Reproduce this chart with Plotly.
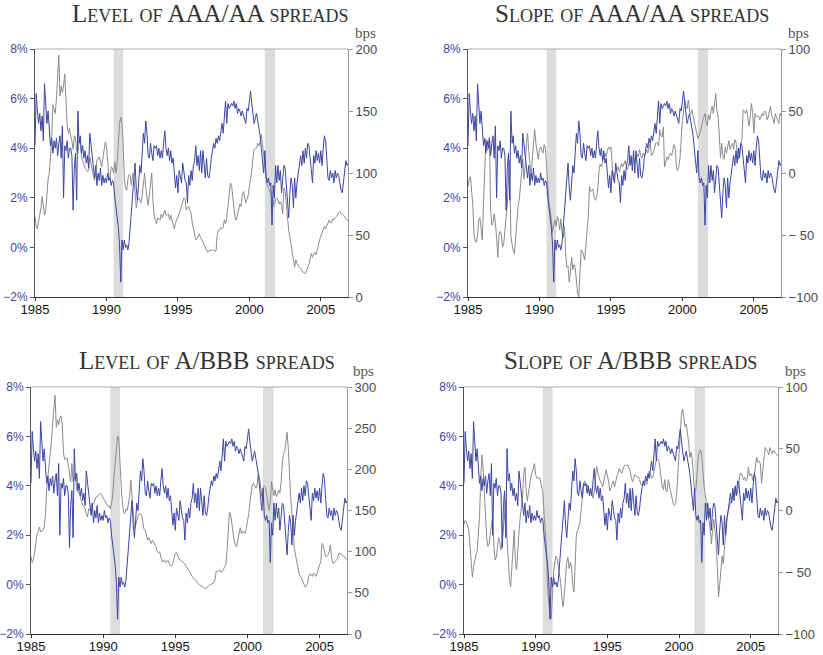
import numpy as np
import plotly.graph_objects as go

# monthly observations, Jan 1985 .. Dec 2006
months = 1985 + np.arange(264) / 12

# blue series (%), left axis, same in every panel
growth = [
    4.1, 6.2, 5.5, 5.0, 5.4, 4.7, 5.3, 4.3, 6.6, 5.6, 5.0, 5.5,
    4.8, 4.1, 4.4, 3.8, 4.3, 4.0, 4.4, 3.7, 4.2, 4.5, 3.6, 4.9,
    2.0, 4.1, 3.9, 4.3, 3.6, 4.0, 4.0, 3.7, 1.5, 3.2, 3.8, 1.9,
    5.5, 4.2, 4.5, 3.8, 4.1, 3.6, 3.9, 3.4, 3.7, 3.2, 4.6, 4.2,
    3.6, 3.2, 2.8, 3.3, 2.5, 3.0, 2.7, 3.2, 2.5, 2.9, 2.6, 2.8,
    2.6, 3.0, 2.7, 2.8, 2.5, 2.7, 2.6, 2.0, 1.6, 1.3, 0.8, 0.1,
    -1.4, 0.3, -0.1, 0.3, 0.0, 0.1, -0.1, 0.2, 0.8, 1.6, 2.2, 2.8,
    3.4, 2.4, 1.9, 2.6, 3.3, 3.0, 4.0, 4.6, 4.2, 5.1, 4.6, 3.7,
    3.6, 4.2, 3.8, 3.5, 4.1, 4.0, 4.1, 3.7, 4.0, 3.6, 3.9, 3.6,
    4.2, 4.7, 4.0, 3.7, 4.0, 3.5, 3.9, 3.4, 3.6, 3.0, 2.4, 2.9,
    2.2, 3.1, 2.8, 2.6, 3.4, 3.0, 2.7, 2.6, 1.8, 2.9, 2.5, 3.1,
    2.7, 3.3, 3.5, 4.1, 3.3, 3.7, 3.1, 3.9, 3.0, 3.9, 3.2, 2.8,
    3.6, 2.9, 2.8, 3.1, 3.6, 4.0, 4.2, 4.0, 4.4, 4.2, 4.5, 4.3,
    4.8, 5.0, 4.6, 5.2, 5.9, 5.0, 5.8, 5.6, 5.7, 5.8, 5.7, 5.9,
    5.6, 5.8, 5.4, 5.6, 5.5, 5.3, 5.5, 5.3, 5.2, 5.0, 5.6, 5.5,
    5.9, 6.3, 5.8, 5.3, 5.0, 5.2, 5.4, 5.1, 4.8, 4.5, 4.0, 3.5,
    3.0, 3.9, 2.8, 2.6, 2.8, 2.5, 2.6, 0.9, 2.5, 2.0, 3.3, 2.6,
    3.3, 2.7, 3.1, 2.2, 3.0, 3.3, 3.2, 2.5, 2.0, 1.2, 2.2, 2.8,
    2.5, 1.6, 2.8, 2.0, 2.6, 3.0, 3.4, 3.7, 3.3, 3.9, 3.4, 4.0,
    3.6, 4.2, 4.1, 3.5, 3.2, 2.6, 3.7, 3.4, 3.9, 3.5, 3.8, 3.4,
    3.9, 3.3, 4.0, 4.5, 4.3, 3.5, 2.8, 2.7, 3.1, 2.8, 3.0, 2.6,
    3.1, 2.8, 3.0, 2.9, 2.5, 2.3, 2.2, 2.7, 3.2, 3.5, 3.3, 3.4,
]

# gray series (bps), right axis
level_aaa = [
    65, 57, 55, 60, 64, 72, 81, 73, 66, 70, 88, 95,
    100, 112, 127, 155, 150, 148, 160, 178, 195, 162, 170, 165,
    170, 180, 150, 138, 132, 136, 130, 126, 119, 130, 128, 118,
    116, 125, 128, 113, 110, 106, 104, 103, 101, 102, 113, 108,
    102, 98, 94, 100, 110, 112, 113, 109, 105, 112, 119, 125,
    122, 105, 98, 95, 105, 104, 100, 109, 100, 108, 128, 140,
    145, 140, 124, 95, 88, 86, 95, 99, 98, 90, 100, 98,
    84, 72, 78, 80, 78, 76, 82, 90, 100, 88, 78, 74,
    82, 92, 100, 78, 66, 62, 59, 64, 63, 62, 67, 64,
    67, 70, 66, 66, 67, 62, 66, 62, 57, 55, 60, 62,
    65, 67, 70, 74, 77, 80, 79, 70, 72, 73, 70, 68,
    60, 55, 49, 46, 47, 49, 51, 48, 46, 43, 41, 40,
    38, 36, 37, 38, 37, 38, 38, 37, 37, 50, 54, 54,
    56, 55, 56, 62, 59, 64, 73, 85, 92, 90, 81, 72,
    64, 62, 66, 72, 75, 73, 82, 85, 80, 76, 79, 82,
    89, 95, 102, 112, 119, 120, 120, 124, 122, 125, 131, 123,
    114, 104, 94, 90, 88, 86, 84, 81, 77, 73, 79, 80,
    78, 75, 77, 74, 67, 88, 85, 72, 60, 54, 48, 43,
    37, 30, 24, 30, 27, 25, 24, 23, 22, 20, 19, 19,
    21, 24, 26, 31, 35, 32, 35, 36, 34, 38, 43, 46,
    49, 52, 55, 57, 55, 57, 60, 62, 60, 60, 63, 62,
    64, 65, 66, 68, 69, 67, 67, 66, 65, 63, 62, 61,
]

slope_aaa = [
    -11, -5, -3, -12, -25, -49, -55, -56, -51, -38, -36, -45,
    -54, -25, 5, 27, 18, 20, 29, -30, -42, -40, -33, -40,
    -52, -68, -50, -47, -50, -60, -57, -45, -33, -25, -5, 10,
    -51, -58, -63, -65, -52, -40, -27, -22, -12, 0, 11, -5,
    5, 24, 32, 18, 5, -3, 12, 25, 35, 24, 15, 11,
    19, 21, 18, 16, 23, 20, 5, -12, -24, -30, -37, -48,
    -42, -38, -43, -35, -38, -46, -37, -48, -52, -43, -65, -76,
    -75, -88, -80, -68, -78, -74, -76, -90, -97, -100, -80, -62,
    -63, -66, -70, -58, -48, -35, -11, -15, -14, -13, -20, -22,
    -20, -12, 2, 7, 5, 10, 14, 16, 13, 18, 21, 19,
    21, 8, -6, 0, 1, 3, 5, 1, 4, 8, 5, 8,
    10, 5, 3, 7, 11, 11, 12, 12, 8, 14, 15, 13,
    19, 14, 12, 16, 14, 15, 19, 16, 20, 24, 14, 15,
    18, 21, 25, 24, 22, 35, 30, 29, 37, 5, 8, 13,
    11, 14, 16, 14, 19, 23, 20, 5, 2, 5, 12, 30,
    42, 50, 59, 54, 52, 59, 50, 48, 51, 46, 40, 37,
    32, 28, 30, 33, 37, 42, 45, 48, 40, 38, 47, 43,
    50, 54, 48, 58, 64, 50, 46, 30, 12, 24, 14, 11,
    21, 16, 22, 26, 19, 22, 24, 19, 27, 25, 18, 11,
    18, 22, 27, 51, 49, 48, 51, 42, 38, 46, 56, 48,
    32, 48, 45, 46, 46, 43, 46, 48, 46, 50, 49, 43,
    45, 50, 54, 46, 44, 40, 48, 45, 42, 40, 48, 46,
]

level_bbb = [
    94, 87, 90, 98, 110, 122, 124, 130, 124, 125, 126, 130,
    145, 175, 190, 205, 215, 234, 255, 278, 290, 251, 260, 254,
    263, 265, 255, 220, 212, 213, 214, 205, 193, 185, 207, 185,
    190, 195, 175, 172, 172, 165, 161, 157, 154, 152, 146, 142,
    152, 150, 155, 159, 158, 163, 166, 167, 168, 170, 171, 168,
    165, 162, 159, 156, 155, 156, 152, 158, 170, 191, 207, 222,
    240, 238, 205, 180, 160, 148, 146, 152, 150, 158, 167, 187,
    170, 145, 128, 132, 138, 143, 146, 146, 145, 136, 127, 126,
    120, 114, 117, 113, 110, 114, 111, 108, 106, 100, 99, 100,
    92, 88, 88, 90, 87, 88, 89, 86, 83, 83, 86, 92,
    98, 99, 94, 91, 90, 89, 87, 86, 85, 82, 80, 78,
    76, 72, 70, 68, 66, 66, 63, 61, 60, 59, 57, 57,
    56, 55, 56, 58, 59, 60, 61, 61, 62, 66, 76, 76,
    76, 78, 75, 76, 78, 82, 84, 100, 128, 148, 145, 132,
    120, 113, 108, 106, 114, 124, 129, 122, 125, 124, 122, 128,
    135, 145, 159, 172, 180, 183, 180, 177, 180, 195, 190, 180,
    167, 177, 180, 178, 167, 155, 150, 160, 185, 175, 168, 175,
    167, 170, 175, 171, 185, 208, 219, 222, 235, 245, 225, 190,
    165, 146, 118, 104, 96, 88, 80, 73, 70, 68, 64, 61,
    57, 58, 62, 70, 73, 72, 70, 74, 72, 70, 74, 80,
    84, 88, 110, 108, 100, 94, 94, 96, 100, 108, 92, 86,
    86, 88, 90, 92, 98, 98, 97, 96, 94, 94, 92, 90,
]

slope_bbb = [
    -11, -8, -9, -14, -16, -28, -40, -54, -46, -40, -36, -33,
    -22, -5, 25, 45, 35, 15, -5, -22, -29, -27, -19, -10,
    -5, -28, -40, -38, -27, -22, -26, -32, -26, -16, -5, 8,
    -22, -40, -55, -62, -50, -32, -16, -42, -48, -27, -18, -6,
    2, 11, 30, 35, 16, 8, 15, 22, 27, 31, 35, 38,
    29, 26, 26, 27, 24, 20, 14, -3, -15, -30, -64, -75,
    -85, -88, -68, -50, -42, -37, -39, -45, -50, -59, -72, -78,
    -67, -52, -42, -38, -47, -42, -45, -60, -66, -45, -20, -16,
    -14, -10, -2, 10, 20, 24, 20, 21, 19, 14, 15, 12,
    10, 15, 28, 36, 30, 26, 24, 22, 19, 24, 29, 33,
    28, 24, 16, 18, 22, 24, 19, 24, 28, 30, 34, 32,
    30, 33, 36, 37, 36, 37, 35, 32, 27, 23, 26, 29,
    28, 27, 27, 25, 21, 21, 22, 24, 24, 21, 27, 32,
    30, 26, 27, 32, 38, 41, 42, 41, 34, 25, 19, 17,
    25, 16, 15, 25, 20, 15, 10, 6, 4, 5, 14, 30,
    45, 60, 78, 82, 76, 68, 70, 63, 55, 43, 47, 42,
    26, 15, 16, 28, 43, 47, 49, 45, 28, 19, 12, 3,
    -3, -8, -14, -27, -15, -7, -16, -26, -45, -70, -60, -44,
    -37, -43, -30, -18, -6, -1, 4, 6, 8, 12, 16, 18,
    12, 15, 22, 30, 30, 27, 25, 27, 24, 25, 35, 28,
    30, 28, 24, 30, 38, 43, 39, 40, 38, 22, 32, 42,
    51, 49, 48, 45, 51, 48, 46, 49, 47, 46, 45, 44,
]

recessions = [(1990.5, 1991.17), (2001.08, 2001.8)]

BLUE = "#3c44a6"
GRAY = "#8c8c8c"

panels = [
    dict(title="Level of AAA/AA spreads", series=level_aaa, rng=[0, 200],
         vals=[0, 50, 100, 150, 200], text=["0", "50", "100", "150", "200"],
         x=[35, 348], y=[49, 297], title_at=(210, 14)),
    dict(title="Slope of AAA/AA spreads", series=slope_aaa, rng=[-100, 100],
         vals=[-100, -50, 0, 50, 100], text=["\u2212100", "\u2212 50", "0", "50", "100"],
         x=[468, 781], y=[49, 297], title_at=(632, 14)),
    dict(title="Level of A/BBB spreads", series=level_bbb, rng=[0, 300],
         vals=[0, 50, 100, 150, 200, 250, 300],
         text=["0", "50", "100", "150", "200", "250", "300"],
         x=[31, 347], y=[387, 634], title_at=(207, 360)),
    dict(title="Slope of A/BBB spreads", series=slope_bbb, rng=[-100, 100],
         vals=[-100, -50, 0, 50, 100], text=["\u2212100", "\u2212 50", "0", "50", "100"],
         x=[464, 778], y=[387, 634], title_at=(630, 360)),
]

W, H = 823, 655
fig = go.Figure()
layout = {}
shapes = []
annotations = []
tick_font = dict(family="Liberation Sans, Arial", size=12)

for k, p in enumerate(panels, start=1):
    xa = "x" if k == 1 else f"x{k}"
    yr = f"y{2 * k - 1}" if k > 1 else "y"
    yl = f"y{2 * k}"
    xdom = [p["x"][0] / W, p["x"][1] / W]
    ydom = [1 - p["y"][1] / H, 1 - p["y"][0] / H]

    fig.add_trace(go.Scatter(x=months, y=p["series"], mode="lines", xaxis=xa, yaxis=yr,
                             line=dict(color=GRAY, width=1), showlegend=False))
    fig.add_trace(go.Scatter(x=months, y=growth, mode="lines", xaxis=xa, yaxis=yl,
                             line=dict(color=BLUE, width=1), showlegend=False))

    xkey = "xaxis" if k == 1 else f"xaxis{k}"
    layout[xkey] = dict(
        domain=xdom, anchor=yr, range=[1985, 2006.9], tickvals=[1985, 1990, 1995, 2000, 2005],
        ticks="outside", ticklen=3, tickcolor="#333", showline=True, linecolor="#333",
        showgrid=False, zeroline=False, ticklabelstandoff=-3,
        tickfont=dict(tick_font, color="#111", size=13),
    )
    layout["yaxis" if k == 1 else f"yaxis{2 * k - 1}"] = dict(
        domain=ydom, anchor=xa, side="right", range=p["rng"], tickvals=p["vals"],
        ticktext=p["text"], ticks="outside", ticklen=4, tickcolor="#999",
        showline=True, linecolor="#999", showgrid=False, zeroline=False,
        tickfont=dict(tick_font, color="#4a4a4a", size=13),
    )
    layout[f"yaxis{2 * k}"] = dict(
        overlaying=yr, anchor=xa, side="left", range=[-2, 8], tickvals=[-2, 0, 2, 4, 6, 8],
        ticktext=["\u22122%", "0%", "2%", "4%", "6%", "8%"], ticks="outside", ticklen=4,
        tickcolor="#555", showline=True, linecolor="#556", showgrid=False, zeroline=False,
        tickfont=dict(tick_font, color=BLUE),
    )

    for a, b in recessions:
        shapes.append(dict(type="rect", xref=xa, yref=f"{yr} domain", x0=a, x1=b, y0=0, y1=1,
                           fillcolor="#dcdcdc", line_width=0, layer="below"))
    shapes.append(dict(type="line", xref=f"{xa} domain", yref=f"{yr} domain",
                       x0=0, x1=1, y0=1, y1=1, line=dict(color="#aaa", width=1)))

    tx, ty = p["title_at"]
    annotations.append(dict(text=p["title"], x=tx / W, y=1 - ty / H,
                            xref="paper", yref="paper", showarrow=False,
                            xanchor="center", yanchor="middle",
                            font=dict(family="Liberation Serif, DejaVu Serif", size=25,
                                      color="#333", variant="small-caps")))
    annotations.append(dict(text="bps", x=xdom[1] + 17 / W, y=ydom[1] + 16 / H,
                            xref="paper", yref="paper", showarrow=False,
                            xanchor="center", yanchor="middle",
                            font=dict(family="Liberation Serif, DejaVu Serif", size=15,
                                      color="#555")))

fig.update_layout(
    **layout,
    shapes=shapes,
    annotations=annotations,
    width=W,
    height=H,
    margin=dict(l=0, r=0, t=0, b=0),
    template="none",
    paper_bgcolor="white",
    plot_bgcolor="rgba(0,0,0,0)",
    showlegend=False,
)

# drop the default page margin so the figure sits at the window's corner
fig.write_html("out.html", config={"displayModeBar": False},
               post_script="document.body.style.margin='0px';")
